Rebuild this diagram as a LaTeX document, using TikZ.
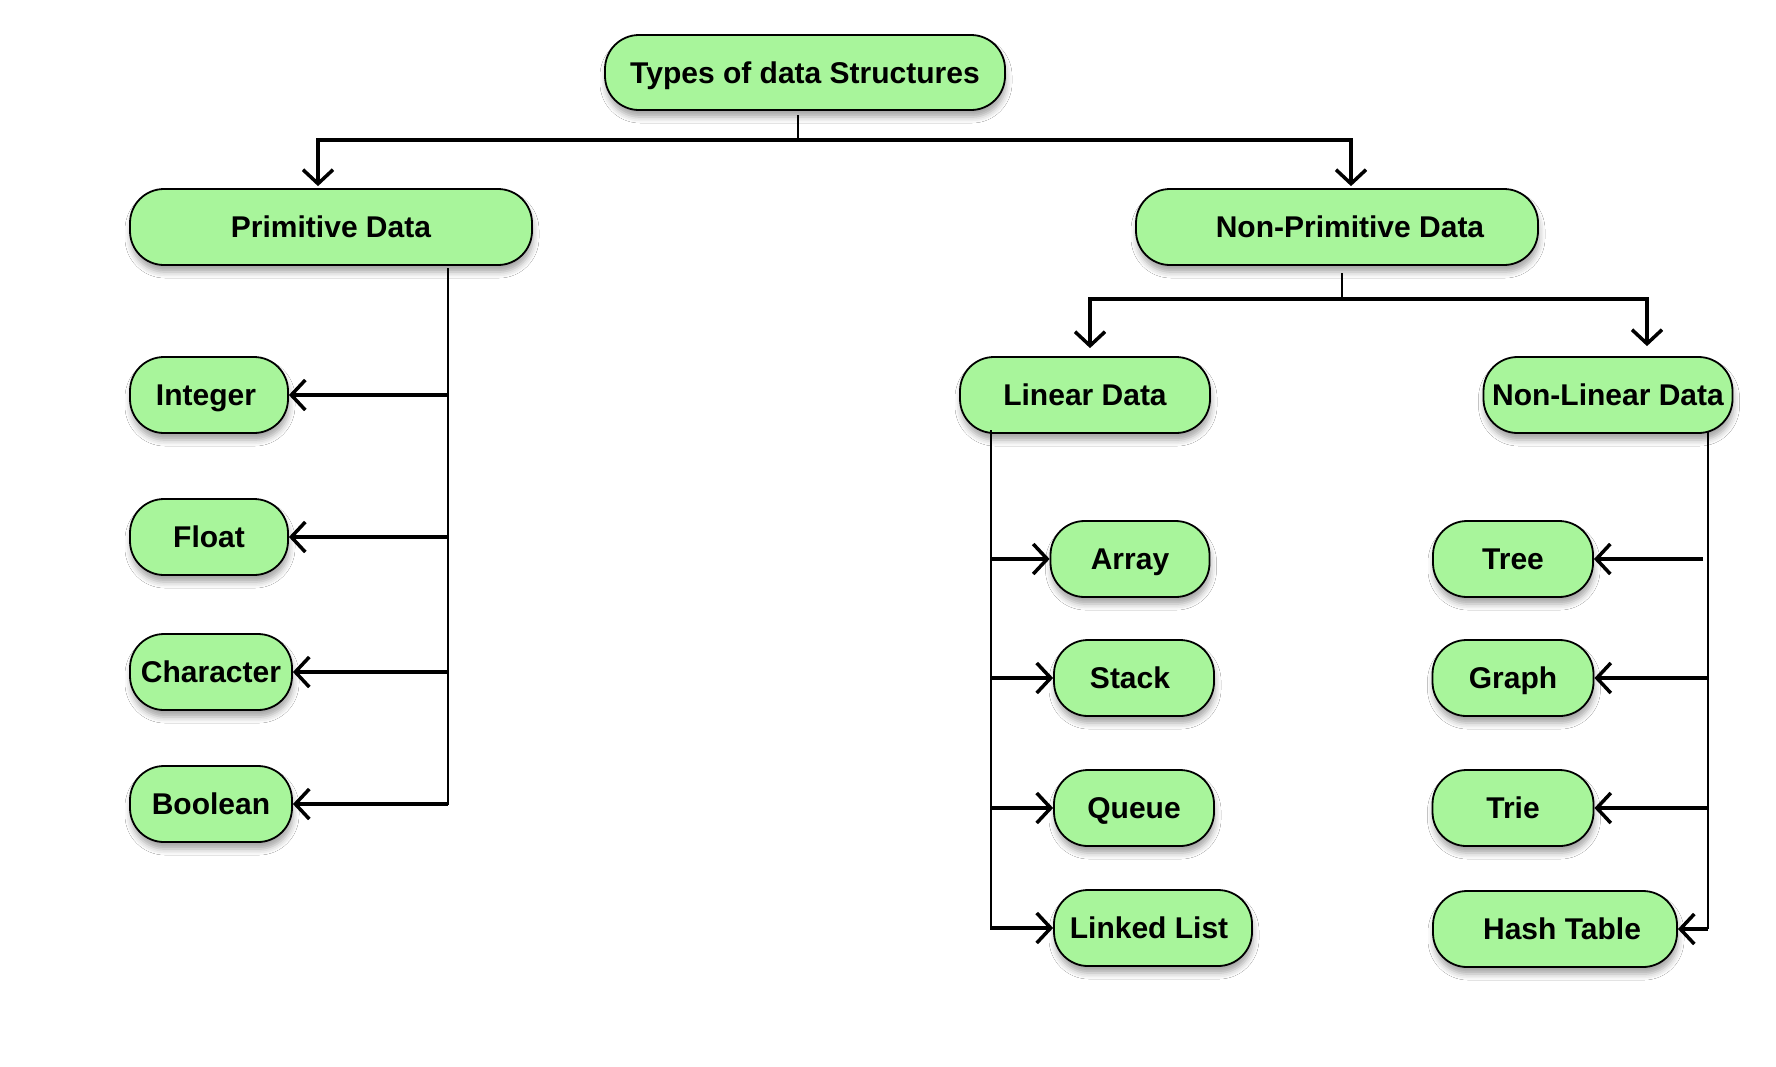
\documentclass[tikz,border=0pt]{standalone}
\usepackage{fontspec}
\setmainfont{Liberation Sans}
\usetikzlibrary{arrows.meta,shadows.blur,calc}
\definecolor{nodegreen}{RGB}{168,245,155}
\begin{document}
\begin{tikzpicture}[x=1pt,y=-1pt,
  box/.style={draw=black, line width=1.8pt, fill=nodegreen, rounded corners=34pt,
    minimum height=76pt, inner sep=0pt, text height=21pt, text depth=-5pt,
    font=\fontsize{30}{35}\selectfont\bfseries,
    blur shadow={shadow xshift=1pt, shadow yshift=-7pt, shadow blur radius=6pt, shadow opacity=35}},
  conn/.style={line width=3.5pt},
  arr/.style={line width=3.5pt, -{Straight Barb[length=14pt,width=30pt]}},
  arrboth/.style={line width=3.5pt, {Straight Barb[length=14pt,width=30pt]}-{Straight Barb[length=14pt,width=30pt]}},
  trunk/.style={line width=2.5pt},
  stub/.style={line width=1.5pt}]
\fill[white] (0,0) rectangle (1776,1066);
\useasboundingbox (0,0) rectangle (1776,1066);

% nodes
\node[box, minimum width=400pt, minimum height=75pt] (top) at (805,72.5) {Types of data Structures};
\node[box, minimum width=402pt] (prim) at (331,227) {Primitive Data};
\node[box, minimum width=402pt] (nonprim) at (1337,227) {\hspace*{26pt}Non-Primitive Data};
\node[box, minimum width=158pt] (int) at (209,395) {Integer\hspace*{6pt}};
\node[box, minimum width=158pt] (flt) at (209,537) {Float};
\node[box, minimum width=162pt] (chr) at (211,672) {Character};
\node[box, minimum width=162pt] (bool) at (211,804) {Boolean};
\node[box, minimum width=250pt] (lin) at (1085,395) {Linear Data};
\node[box, minimum width=249pt] (nonlin) at (1608,395) {Non-Linear Data};
\node[box, minimum width=159pt] (array) at (1130,559) {Array};
\node[box, minimum width=160pt] (stk) at (1134,678) {Stack\hspace*{8pt}};
\node[box, minimum width=160pt] (que) at (1134,808) {Queue};
\node[box, minimum width=198pt] (ll) at (1153,928) {Linked List\hspace*{8pt}};
\node[box, minimum width=160pt] (tree) at (1513,559) {Tree};
\node[box, minimum width=161pt] (graph) at (1513,678) {Graph};
\node[box, minimum width=161pt] (trie) at (1513,808) {Trie};
\node[box, minimum width=244pt] (hash) at (1555,929) {\hspace*{14pt}Hash Table};

% top level
\coordinate (t1) at (798,115);
\coordinate (t2) at (798,140);
\coordinate (pa) at (318,140);
\coordinate (pb) at (1351,140);
\draw[stub] (t1) -- (t2);
\draw[arrboth, shorten <=2pt, shorten >=2pt] (prim.north -| pa) -- (pa) -- (pb) -- (nonprim.north -| pb);

% primitive
\coordinate (ps) at (448,268);
\coordinate (pe) at (448,805);
\draw[trunk] (ps) -- (pe);
\draw[arr] (int.east -| ps) -- (int.east);
\draw[arr] (flt.east -| ps) -- (flt.east);
\draw[arr] (chr.east -| ps) -- (chr.east);
\draw[arr] (bool.east -| ps) -- (bool.east);

% non-primitive
\coordinate (n1) at (1342,273);
\coordinate (n2) at (1342,299);
\coordinate (na) at (1090,299);
\coordinate (nb) at (1647,299);
\draw[stub] (n1) -- (n2);
\draw[arrboth, shorten <=8pt, shorten >=10pt] (lin.north -| na) -- (na) -- (nb) -- (nonlin.north -| nb);

% linear
\coordinate (ls) at (991,430);
\coordinate (le) at (991,930);
\draw[trunk] (ls) -- (le);
\draw[arr] (array.west -| ls) -- (array.west);
\draw[arr] (stk.west -| ls) -- (stk.west);
\draw[arr] (que.west -| ls) -- (que.west);
\draw[arr] (ll.west -| ls) -- (ll.west);

% non-linear
\coordinate (rs) at (1708,432);
\coordinate (rt) at (1703,559);
\draw[trunk] (rs) -- (rs |- hash.east);
\draw[arr] (rt) -- (tree.east);
\draw[arr] (graph.east -| rs) -- (graph.east);
\draw[arr] (trie.east -| rs) -- (trie.east);
\draw[arr] (hash.east -| rs) -- (hash.east);
\end{tikzpicture}
\end{document}
